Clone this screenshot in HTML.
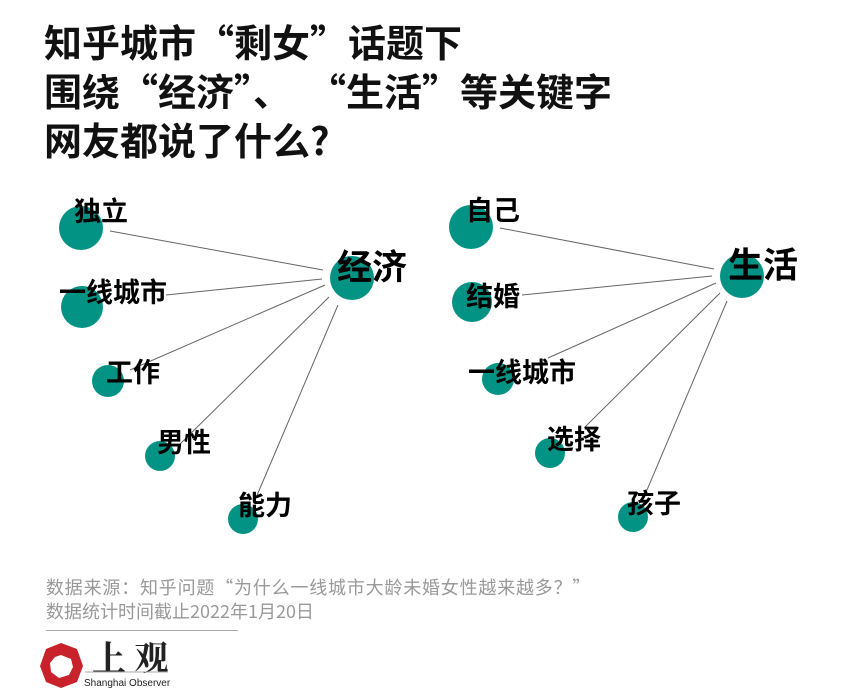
<!DOCTYPE html>
<html><head><meta charset="utf-8"><style>
body{margin:0;width:854px;height:700px;background:#fff;overflow:hidden;font-family:"Liberation Sans","Noto Sans CJK SC",sans-serif;}
.t{position:absolute;left:44px;font-weight:bold;font-size:38px;color:#111;line-height:49px;top:16px;font-family:"Noto Sans CJK SC",sans-serif;letter-spacing:0px}
.src{position:absolute;left:46px;top:575px;font-size:18px;color:#999;line-height:24px;font-family:"Noto Sans CJK SC",sans-serif;letter-spacing:0.8px}
</style></head><body>
<div class="t">知乎城市“剩女”话题下<br>围绕“经济”、<span style="margin-left:36px">“生活”等关键字</span><br>网友都说了什么?</div>
<svg width="854" height="700" style="position:absolute;left:0;top:0">
<g stroke="#666" stroke-width="1">
<line x1="110" y1="231" x2="323" y2="270"/><line x1="166" y1="295" x2="322" y2="279"/><line x1="130" y1="370" x2="325" y2="285"/><line x1="178" y1="446" x2="329" y2="297"/><line x1="255" y1="500" x2="338" y2="305"/>
<line x1="500" y1="228" x2="714" y2="269"/><line x1="522" y1="295" x2="712" y2="276"/><line x1="548" y1="358" x2="716" y2="283"/><line x1="584" y1="428" x2="720" y2="293"/><line x1="647" y1="490" x2="727" y2="301"/>
</g>
<g fill="#039384">
<circle cx="81" cy="228" r="22"/><circle cx="82" cy="307" r="21"/><circle cx="108" cy="381" r="16"/><circle cx="160" cy="456" r="15"/><circle cx="243" cy="519" r="15"/><circle cx="352" cy="278" r="22"/>
<circle cx="471" cy="227" r="22"/><circle cx="472" cy="302" r="20"/><circle cx="498" cy="379" r="16"/><circle cx="550" cy="453" r="15"/><circle cx="633" cy="517" r="15"/><circle cx="742" cy="276" r="22"/>
</g>
<g font-family="Liberation Sans,Noto Sans CJK SC,sans-serif" font-weight="bold" font-size="27" fill="#000" dominant-baseline="central">
<text x="74" y="212">独立</text><text x="59" y="293">一线城市</text><text x="106" y="373">工作</text><text x="157" y="443">男性</text><text x="238" y="506">能力</text>
<text x="337" y="268" font-size="35">经济</text>
<text x="466" y="211">自己</text><text x="466" y="297">结婚</text><text x="468" y="373">一线城市</text><text x="547" y="440">选择</text><text x="627" y="504">孩子</text>
<text x="728" y="266" font-size="35">生活</text>
</g>
<line x1="46" y1="630.5" x2="238" y2="630.5" stroke="#aaa" stroke-width="1"/>
<polygon points="61,643 77,649 83,666 77,682 61,688 46,682 40,666 46,649" fill="#c8232c"/>
<polygon points="61,655 71,659 73,667 69,675 59,678 51,672 50,663 55,657" fill="#fff"/>
<text x="92" y="670" font-size="34" font-family="Noto Serif CJK SC,serif" font-weight="bold" fill="#222">上 观</text>
<line x1="85" y1="672" x2="168" y2="672" stroke="#aaa" stroke-width="1"/>
<text x="84" y="686" font-size="10" fill="#222">Shanghai Observer</text>
</svg>
<div class="src">数据来源：知乎问题“为什么一线城市大龄未婚女性越来越多？”<br><span style="letter-spacing:0">数据统计时间截止2022年1月20日</span></div>
</body></html>
